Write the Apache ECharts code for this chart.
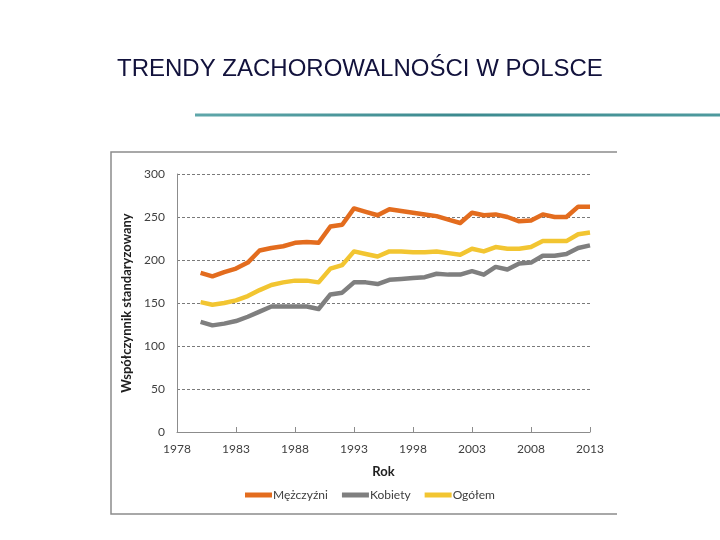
<!DOCTYPE html>
<html>
<head>
<meta charset="utf-8">
<script src="https://cdn.jsdelivr.net/npm/echarts@6/dist/echarts.min.js"></script>
<style>
  html, body { margin: 0; padding: 0; background: #fff; }
  #chart { width: 720px; height: 540px; }
</style>
</head>
<body>
<div id="chart"></div>
<script>
// Years 1980-2013
const years = [1980, 1981, 1982, 1983, 1984, 1985, 1986, 1987, 1988, 1989,
  1990, 1991, 1992, 1993, 1994, 1995, 1996, 1997, 1998, 1999,
  2000, 2001, 2002, 2003, 2004, 2005, 2006, 2007, 2008, 2009,
  2010, 2011, 2012, 2013];

const men = [185, 181, 186, 190, 197, 211, 214, 216, 220, 221,
  220, 239, 241, 260, 256, 252, 259, 257, 255, 253,
  251, 247, 243, 255, 252, 253, 250, 245, 246, 253,
  250, 250, 262, 262];

const women = [128, 124, 126, 129, 134, 140, 146, 146, 146, 146,
  143, 160, 162, 174, 174, 172, 177, 178, 179, 180,
  184, 183, 183, 187, 183, 192, 189, 196, 197, 205,
  205, 207, 214, 217];

const total = [151, 148, 150, 153, 158, 165, 171, 174, 176, 176,
  174, 190, 194, 210, 207, 204, 210, 210, 209, 209,
  210, 208, 206, 213, 210, 215, 213, 213, 215, 222,
  222, 222, 230, 232];

const seriesNames = ['Mężczyźni', 'Kobiety', 'Ogółem'];
const colors = ['#E36C1E', '#7F7F7F', '#F2C531'];

const pairs = vals => years.map((y, i) => [y, vals[i]]);

const myChart = echarts.init(document.getElementById('chart'));

const labelFont = { fontFamily: 'Lato', fontSize: 12, color: '#404040' };

const option = {
  animation: false,
  backgroundColor: '#fff',
  title: {
    text: 'TRENDY ZACHOROWALNOŚCI W POLSCE',
    left: 112,
    top: 52,
    textStyle: { fontFamily: 'Liberation Sans', fontSize: 24, fontWeight: 'normal', color: '#12123C' }
  },
  graphic: [
    {
      type: 'line',
      shape: { x1: 195, y1: 115, x2: 720, y2: 115 },
      style: {
        lineWidth: 3,
        stroke: new echarts.graphic.LinearGradient(0, 0, 1, 0, [
          { offset: 0, color: '#5FA7AA' },
          { offset: 0.5, color: '#3C8A8F' },
          { offset: 1, color: '#4E9A9E' }
        ])
      }
    },
    // frame of the embedded chart
    { type: 'polyline', shape: { points: [[617, 152], [111, 152], [111, 514], [617, 514]] },
      style: { stroke: '#8C8C8C', lineWidth: 1.5, fill: null } }
  ],
  legend: {
    data: seriesNames,
    left: 240,
    top: 484,
    icon: 'rect',
    itemWidth: 27,
    itemHeight: 5,
    itemGap: 14,
    textStyle: { fontFamily: 'Lato', fontSize: 12, color: '#404040', padding: [0, 0, 0, -4] }
  },
  grid: { left: 177, right: 130, top: 174, bottom: 108 },
  xAxis: {
    type: 'value',
    min: 1978,
    max: 2013,
    interval: 5,
    name: 'Rok',
    nameLocation: 'middle',
    nameGap: 33,
    nameTextStyle: { fontFamily: 'Lato', fontSize: 13, fontWeight: 'bold', color: '#202020' },
    axisLine: { lineStyle: { color: '#8C8C8C', width: 1 } },
    axisTick: { show: true, inside: true, length: 5, lineStyle: { color: '#8C8C8C' } },
    axisLabel: Object.assign({ margin: 11, formatter: v => String(v) }, labelFont),
    splitLine: { show: false }
  },
  yAxis: {
    type: 'value',
    min: 0,
    max: 300,
    interval: 50,
    name: 'Współczynnik standaryzowany',
    nameLocation: 'middle',
    nameGap: 41,
    nameRotate: 90,
    nameTextStyle: { fontFamily: 'Lato', fontSize: 13, fontWeight: 'bold', color: '#202020' },
    axisLine: { show: true, lineStyle: { color: '#8C8C8C', width: 1 } },
    axisTick: { show: false },
    axisLabel: Object.assign({ margin: 12 }, labelFont),
    splitLine: { show: true, lineStyle: { color: '#7A7A7A', type: [3, 2], width: 1 } }
  },
  series: seriesNames.map((name, i) => ({
    name: name,
    type: 'line',
    data: pairs([men, women, total][i]),
    symbol: 'none',
    color: colors[i],
    lineStyle: { width: 4.5, color: colors[i], join: 'round' }
  }))
};

myChart.setOption(option);
</script>
</body>
</html>
